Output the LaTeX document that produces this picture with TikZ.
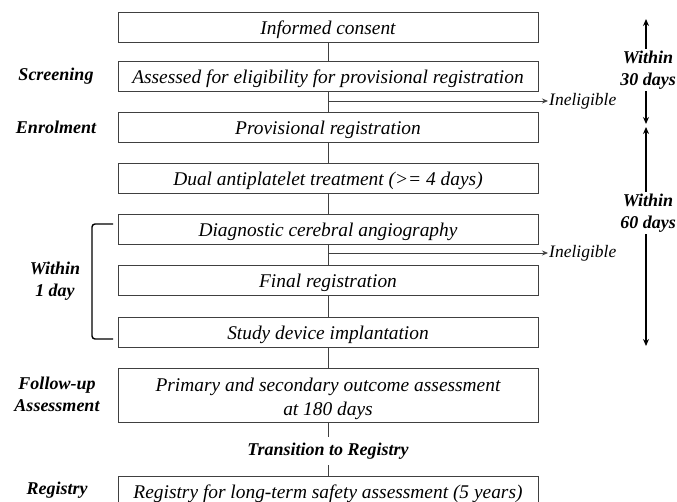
\documentclass[tikz,border=0pt]{standalone}
\usepackage{fontspec}
\setmainfont{Liberation Serif}
\usetikzlibrary{arrows.meta}

\begin{document}
\begin{tikzpicture}[x=1pt, y=-1pt,
  box/.style={draw=black!75, line width=0.8pt, minimum width=420pt, minimum height=30pt, inner sep=2pt, text height=17pt, text depth=2pt, font=\fontsize{19.4}{24}\selectfont\itshape},
  lbl/.style={font=\fontsize{18}{22}\selectfont\bfseries\itshape, align=center, inner sep=2pt},
  side/.style={font=\fontsize{17.5}{20}\selectfont\itshape, inner sep=1pt, anchor=west},
  link/.style={draw=black!75, line width=0.8pt},
  span/.style={line width=1.5pt, -{Stealth[length=7pt, width=6pt]}}]
\useasboundingbox (0,0) rectangle (677,502);

\node[box] (consent) at (328, 27) {Informed consent};
\node[box] (assess) at (328, 76) {Assessed for eligibility for provisional registration};
\node[box] (provreg) at (328, 127.5) {Provisional registration};
\node[box] (dapt) at (328, 178.5) {Dual antiplatelet treatment (>= 4 days)};
\node[box] (angio) at (328, 229) {Diagnostic cerebral angiography};
\node[box] (finalreg) at (328, 280) {Final registration};
\node[box] (implant) at (328, 332) {Study device implantation};
\node[box, minimum height=54pt, text height=33pt, text depth=15pt] (outcome) at (328, 395) {\begin{tabular}{@{}c@{}}Primary and secondary outcome assessment\\at 180 days\end{tabular}};
\node[lbl, inner sep=6pt] (transition) at (328, 451) {Transition to Registry};
\node[box] (registry) at (328, 491) {Registry for long-term safety assessment (5 years)};

\draw[link] (consent) -- (assess);
\draw[link] (assess) -- (provreg);
\draw[link] (provreg) -- (dapt);
\draw[link] (dapt) -- (angio);
\draw[link] (angio) -- (finalreg);
\draw[link] (finalreg) -- (implant);
\draw[link] (implant) -- (outcome);
\draw[link] (outcome) -- (transition);
\draw[link] (transition) -- (registry);

% ineligible branches
\node[side] (inel1) at (548, 101) {Ineligible};
\node[side] (inel2) at (548, 253) {Ineligible};
\coordinate (j1) at (328, 101);
\coordinate (j2) at (328, 253);
\draw[link, -{Stealth[length=6pt, width=5pt]}] (j1) -- (inel1);
\draw[link, -{Stealth[length=6pt, width=5pt]}] (j2) -- (inel2);

% phases on the left
\node[lbl] (screening) at (56, 76) {Screening};
\node[lbl] (enrolment) at (56, 127) {Enrolment};
\node[lbl] (oneday) at (55, 281) {Within\\1 day};
\node[lbl] (followup) at (57, 394) {Follow-up\\Assessment};
\node[lbl] (reg) at (57, 490) {Registry};

\coordinate (br1) at (113, 224);
\coordinate (br2) at (113, 339);
\draw[line width=1.4pt, rounded corners=3pt] (br1) -| (92, 281) |- (br2);

% time windows on the right
\node[lbl] (w30) at (648, 70) {Within\\30 days};
\node[lbl] (w60) at (648, 213) {Within\\60 days};
\coordinate (t30) at (646, 19);
\coordinate (b30) at (646, 124);
\coordinate (t60) at (646, 127);
\coordinate (b60) at (646, 346);
\draw[span] (w30.north -| t30) -- (t30);
\draw[span] (w30.south -| t30) -- (b30);
\draw[span] (w60.north -| t60) -- (t60);
\draw[span] (w60.south -| t60) -- (b60);

\end{tikzpicture}
\end{document}
